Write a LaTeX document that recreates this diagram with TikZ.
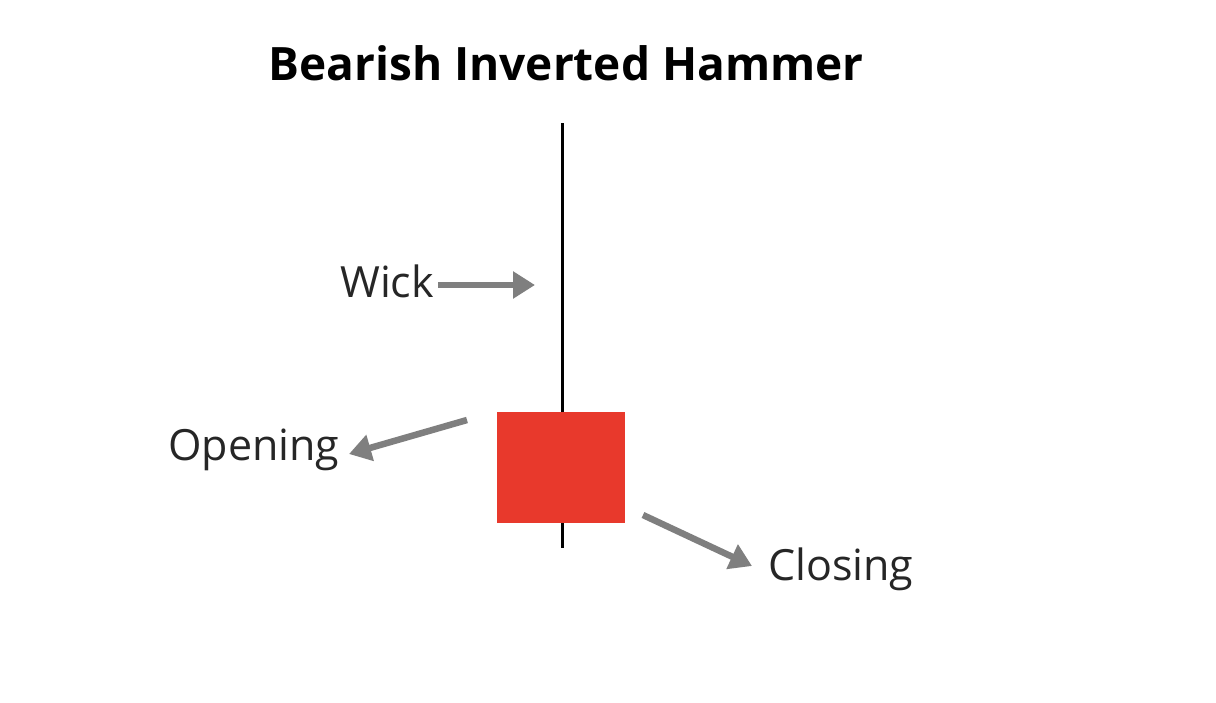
\documentclass[tikz,border=0pt]{standalone}
\usepackage{fontspec}
\setmainfont{Open Sans}
\usetikzlibrary{arrows.meta}
\definecolor{candlered}{HTML}{E8392C}
\definecolor{arrowgray}{HTML}{7F7F7F}
\tikzset{
  lbl/.style={inner sep=0pt, anchor=base west, font=\fontsize{43}{50}\selectfont, text=black!85},
  ptr/.style={draw=arrowgray, line width=6.5pt, -{Triangle[length=22pt,width=26pt]}},
}
\begin{document}
\begin{tikzpicture}[x=1pt,y=-1pt]
\useasboundingbox (0,0) rectangle (1216,702);
\node[inner sep=0pt, anchor=base, font=\fontsize{46}{52}\selectfont\bfseries] (title) at (566,80) {Bearish Inverted Hammer};
\coordinate (top) at (562,123);
\coordinate (bot) at (562,548);
\draw[line width=3pt] (top) -- (bot);
\node[fill=candlered, draw=none, minimum width=128pt, minimum height=111pt, inner sep=0pt, anchor=north west] (body) at (497,412) {};
\node[lbl] (wick) at (340,297) {Wick};
\node[lbl] (open) at (168,460) {Opening};
\node[lbl] (close) at (768,580) {Closing};
\coordinate (wa) at (438,285);
\coordinate (wb) at (535,285);
\coordinate (oa) at (467,420);
\coordinate (ob) at (349,454);
\coordinate (ca) at (643,515);
\coordinate (cb) at (752,566);
\draw[ptr] (wa) -- (wb);
\draw[ptr] (oa) -- (ob);
\draw[ptr] (ca) -- (cb);
\end{tikzpicture}
\end{document}
